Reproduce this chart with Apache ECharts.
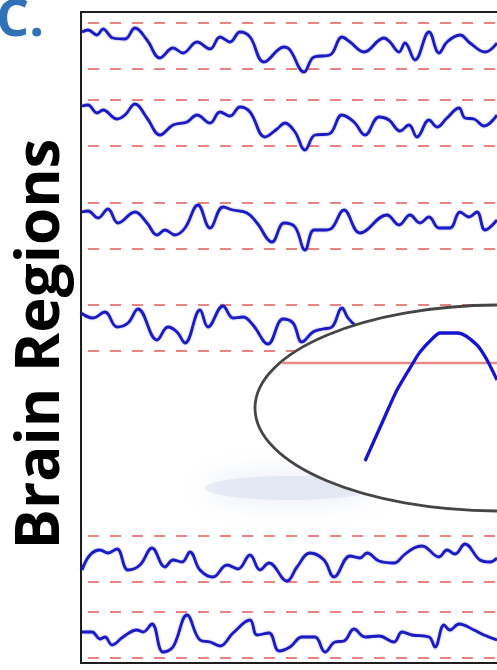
<!DOCTYPE html>
<html><head><meta charset="utf-8">
<script src="https://cdn.jsdelivr.net/npm/echarts@6/dist/echarts.min.js"></script>
<style>html,body{margin:0;padding:0;background:#fff}#c{width:497px;height:670px}</style>
</head><body><div id="c"></div>
<script>
// Baselines of each brain-region trace (y units) and the half-width of the dashed band
const baselines = [617, 540, 437, 335, 104, 28];
const bandHalf = 23;
const bandStart = 7, bandEnd = 500;

// [time, amplitude] samples for each region
const trace1 = [[1,14],[7,16],[16,11],[22,17],[32,8],[44,7],[54,18],[66,6],[79,-12],[92,-2],[102,-7],[116,4],[129,-3],[139,9],[149,4],[159,14],[169,9],[183,-16],[203,-1],[209,-4],[223,-26],[233,-11],[249,-9],[261,9],[269,4],[283,-6],[303,8],[309,4],[318,-6],[324,3],[334,-14],[348,14],[358,-7],[366,4],[379,11],[389,3],[404,-6],[416,3]];
const trace2 = [[1,17],[7,18],[16,10],[22,13],[36,4],[44,8],[54,19],[66,5],[79,-12],[92,-2],[106,1],[116,8],[129,0],[139,11],[149,7],[159,16],[169,11],[184,-14],[196,-6],[204,0],[214,-9],[224,-27],[234,-12],[248,-11],[261,8],[273,1],[284,-12],[298,6],[308,3],[319,-8],[328,-2],[336,-14],[348,3],[356,-4],[366,5],[378,15],[384,5],[393,4],[403,-3],[416,8]];
const trace3 = [[1,14],[7,15],[17,8],[27,17],[37,3],[54,14],[66,3],[76,-9],[84,-4],[94,-9],[104,-2],[117,21],[129,-2],[142,19],[152,16],[166,13],[176,3],[191,-16],[203,3],[214,-1],[224,-24],[233,-4],[244,-4],[251,-2],[263,16],[279,-7],[306,11],[318,1],[329,11],[339,3],[348,9],[358,-2],[369,-2],[379,14],[388,9],[396,14],[404,-4],[416,6]];
const trace4 = [[0,15],[12,10],[24,16],[36,1],[47,5],[57,19],[76,-12],[87,1],[96,-4],[104,-15],[119,18],[127,1],[142,22],[152,10],[162,11],[172,3],[187,-16],[202,9],[212,5],[221,-14],[232,-4],[242,-1],[251,1],[261,20],[267,10],[275,2]];
const trace5 = [[1,-11],[9,4],[19,9],[27,6],[36,10],[47,-11],[59,-6],[71,11],[84,-8],[92,-1],[101,-3],[109,7],[119,-11],[132,-18],[146,-6],[157,-10],[169,4],[179,-11],[188,-4],[206,-22],[216,-8],[229,6],[243,-1],[253,-18],[269,3],[279,1],[286,6],[298,-2],[313,-4],[323,4],[333,11],[341,13],[358,2],[366,9],[374,5],[384,15],[399,-1],[409,-3],[416,1]];
const trace6 = [[1,3],[11,3],[19,-4],[24,-2],[31,-10],[42,-2],[56,5],[62,3],[71,11],[82,-17],[92,-12],[106,20],[119,-5],[129,-7],[139,-11],[152,2],[169,15],[176,0],[188,2],[198,-16],[209,-12],[221,-2],[234,-2],[244,-17],[254,-7],[263,-6],[273,6],[284,-2],[298,-1],[313,-7],[321,3],[331,0],[348,-2],[354,-12],[363,10],[369,5],[378,11],[393,5],[403,0],[416,-5]];
const traces = [trace1, trace2, trace3, trace4, trace5, trace6];

// Zoomed inset: threshold level and the single burst waveform
const insetThreshold = 107;
const insetX = [83, 100, 115, 131, 138, 151, 158, 176, 195, 205, 215];
const insetY = [9, 47, 80, 107, 118, 132, 137, 137, 125, 110, 90];

const chart = echarts.init(document.getElementById('c'), null, {renderer: 'canvas'});

const series = [];
traces.forEach((tr, i) => {
  const base = baselines[i];
  [base + bandHalf, base - bandHalf].forEach(level => {
    series.push({
      type: 'line', xAxisIndex: 0, yAxisIndex: 0, symbol: 'none', silent: true,
      data: [[bandStart, level], [bandEnd, level]],
      lineStyle: {color: '#e8837f', width: 2, type: [11, 11]}, z: 1
    });
  });
  series.push({
    type: 'line', xAxisIndex: 0, yAxisIndex: 0, symbol: 'none', smooth: 0.4,
    data: tr.map(p => [p[0], p[1] + base]),
    lineStyle: {color: '#1b1bc4', width: 2.8, shadowBlur: 2, shadowColor: 'rgba(40,40,200,0.5)'}, z: 2
  });
});
series.push({
  type: 'line', xAxisIndex: 1, yAxisIndex: 1, symbol: 'none',
  data: [[0, insetThreshold], [215, insetThreshold]],
  lineStyle: {color: '#ea8a88', width: 2.5}, z: 150
});
series.push({
  type: 'line', xAxisIndex: 1, yAxisIndex: 1, symbol: 'none', smooth: 0.25,
  data: insetX.map((x, i) => [x, insetY[i]]),
  lineStyle: {color: '#1414d2', width: 3.3}, z: 200
});

chart.setOption({
  animation: false,
  backgroundColor: '#fff',
  grid: [
    {left: 81, top: 12, width: 500, height: 651, show: true, outerBoundsMode: 'none', containLabel: false,
      borderColor: '#1e1e1e', borderWidth: 2, backgroundColor: 'transparent'},
    {left: 282, top: 320, width: 215, height: 150, show: false, outerBoundsMode: 'none', containLabel: false}
  ],
  xAxis: [
    {type: 'value', gridIndex: 0, min: 0, max: 500, show: false},
    {type: 'value', gridIndex: 1, min: 0, max: 215, show: false}
  ],
  yAxis: [
    {type: 'value', gridIndex: 0, min: 0, max: 651, show: false},
    {type: 'value', gridIndex: 1, min: 0, max: 150, show: false}
  ],
  graphic: [
    {type: 'ellipse', z: 90, shape: {cx: 290, cy: 488, rx: 85, ry: 12},
      style: {fill: 'rgba(210,218,236,0.45)', shadowBlur: 26, shadowColor: 'rgba(200,210,232,1)'}},
    {type: 'ellipse', z: 100, shape: {cx: 500, cy: 408, rx: 245, ry: 103},
      style: {fill: '#ffffff', stroke: '#454545', lineWidth: 2.8}},
    {type: 'text', z: 100, x: 42, y: 344, rotation: Math.PI / 2,
      style: {text: 'Brain Regions', fill: '#000', font: 'bold 60px "Open Sans"', align: 'center', verticalAlign: 'middle'}},
    {type: 'text', z: 100, x: -4, y: 47,
      style: {text: 'C.', fill: '#2f72b8', font: 'bold 52px "Open Sans"', align: 'left', verticalAlign: 'bottom'}}
  ],
  series: series
});
</script>
</body></html>
